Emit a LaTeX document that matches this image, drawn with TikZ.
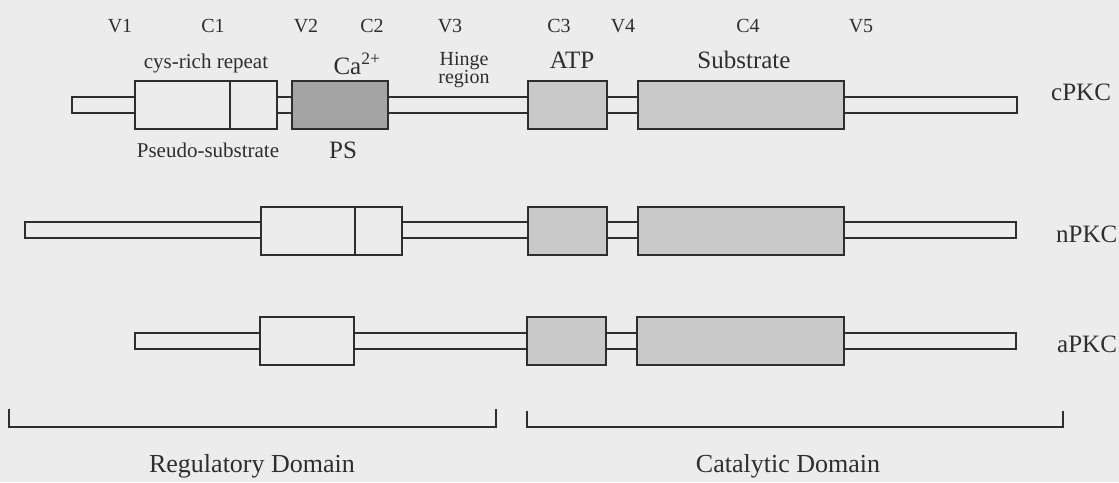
\documentclass[tikz,border=0pt]{standalone}
\usepackage{fontspec}
\setmainfont{Liberation Serif}
\usepackage{xcolor}
\usepackage{tikz}
\usetikzlibrary{positioning}

\definecolor{paper}{HTML}{ECECEC}
\definecolor{ink}{HTML}{2E2E2E}
\definecolor{darkdom}{HTML}{A4A4A4}
\definecolor{lightdom}{HTML}{C9C9C9}

\begin{document}
\begin{tikzpicture}[
    x=1pt, y=-1pt,
    tag/.style={font=\fontsize{20}{22}\selectfont, text=ink, anchor=base, inner sep=0pt},
    motif/.style={font=\fontsize{21}{23}\selectfont, text=ink, anchor=base, inner sep=0pt},
    site/.style={font=\fontsize{25}{27}\selectfont, text=ink, anchor=base, inner sep=0pt},
    iso/.style={font=\fontsize{25}{27}\selectfont, text=ink, anchor=base west, inner sep=0pt},
    domname/.style={font=\fontsize{26}{28}\selectfont, text=ink, anchor=base, inner sep=0pt},
    linker/.style={draw=ink, line width=1.5pt, fill=paper},
    plainbox/.style={rectangle, draw=ink, line width=1.5pt, fill=paper, minimum height=48pt, inner sep=0pt, outer sep=0pt, anchor=west},
    pocket/.style={plainbox, fill=lightdom},
    calbox/.style={plainbox, fill=darkdom},
    bracket/.style={draw=ink, line width=1.5pt},
]

\fill[paper] (0,0) rectangle (1119,482);
\useasboundingbox (0,0) rectangle (1119,482);

% region names
\node[tag] (V1) at (120,32) {V1};
\node[tag] (C1) at (213,32) {C1};
\node[tag] (V2) at (306,32) {V2};
\node[tag] (C2) at (372,32) {C2};
\node[tag] (V3) at (450,32) {V3};
\node[tag] (C3) at (559,32) {C3};
\node[tag] (V4) at (623,32) {V4};
\node[tag] (C4) at (748,32) {C4};
\node[tag] (V5) at (861,32) {V5};

% binding sites
\node[motif] (cys) at (206,68) {cys-rich repeat};
\node[site] (ca) at (357,74) {Ca\textsuperscript{2+}};
\node[tag] (hinge) at (464,65) {Hinge};
\node[tag] (hingeb) at (464,83) {region};
\node[site] (atp) at (572,68) {ATP};
\node[site] (sub) at (744,68) {Substrate};
\node[motif] (pseudo) at (208,157) {Pseudo-substrate};
\node[site] (ps) at (343,158) {PS};

% cPKC
\coordinate (cN) at (72,105);
\coordinate (cC) at (1017,105);
\draw[linker] ([yshift=8pt]cN) rectangle ([yshift=-8pt]cC);
\node[plainbox, minimum width=95pt] (cC1) at (135,105) {};
\node[plainbox, minimum width=47pt, right=0pt of cC1] (cC1b) {};
\node[calbox, minimum width=96pt, right=15pt of cC1b] (cC2) {};
\node[pocket, minimum width=79pt] (cC3) at (528,105) {};
\node[pocket, minimum width=206pt, right=31pt of cC3] (cC4) {};
\node[iso] (cPKC) at (1051,100) {cPKC};

% nPKC
\coordinate (nN) at (25,230);
\coordinate (nC) at (1016,230);
\draw[linker] ([yshift=8pt]nN) rectangle ([yshift=-8pt]nC);
\node[plainbox, minimum width=94pt] (nC1) at (261,231) {};
\node[plainbox, minimum width=47pt, right=0pt of nC1] (nC1b) {};
\node[pocket, minimum width=79pt] (nC3) at (528,231) {};
\node[pocket, minimum width=206pt, right=31pt of nC3] (nC4) {};
\node[iso] (nPKC) at (1056,242) {nPKC};

% aPKC
\coordinate (aN) at (135,341);
\coordinate (aC) at (1016,341);
\draw[linker] ([yshift=8pt]aN) rectangle ([yshift=-8pt]aC);
\node[plainbox, minimum width=94pt] (aC1) at (260,341) {};
\node[pocket, minimum width=79pt] (aC3) at (527,341) {};
\node[pocket, minimum width=207pt, right=31pt of aC3] (aC4) {};
\node[iso] (aPKC) at (1057,352) {aPKC};

% domains
\coordinate (regL) at (9,409);
\coordinate (regR) at (496,409);
\coordinate (catL) at (527,411);
\coordinate (catR) at (1063,411);
\draw[bracket] (regL) -- ++(0,18) -| (regR);
\draw[bracket] (catL) -- ++(0,16) -| (catR);
\node[domname] (reg) at (252,472) {Regulatory Domain};
\node[domname] (cat) at (788,472) {Catalytic Domain};

\end{tikzpicture}
\end{document}
